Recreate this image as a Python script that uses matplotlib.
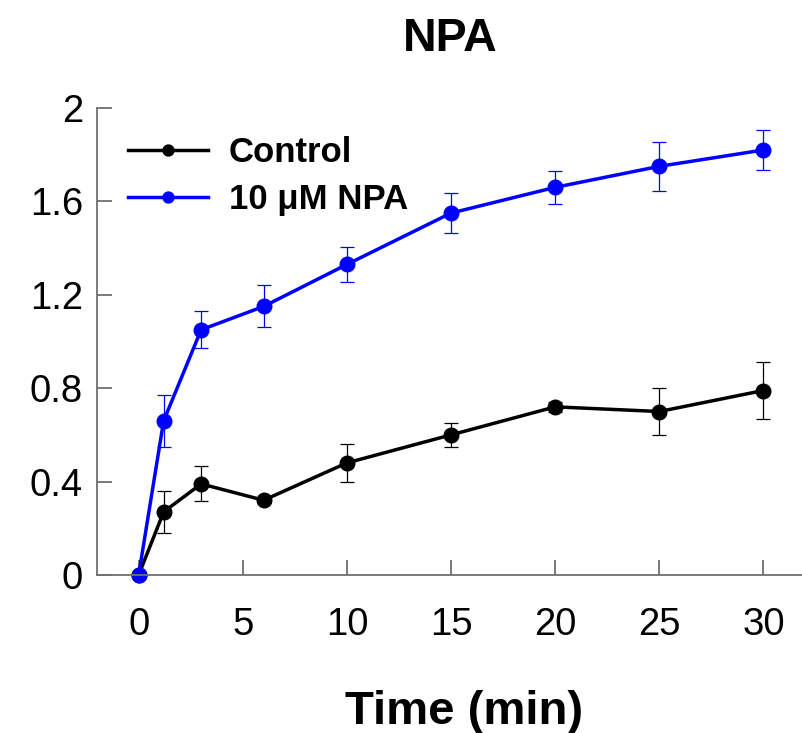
import matplotlib
matplotlib.use("Agg")
import matplotlib.pyplot as plt

# data
time_min = [0, 1.2, 3, 6, 10, 15, 20, 25, 30]
control = [0, 0.27, 0.39, 0.32, 0.48, 0.60, 0.72, 0.70, 0.79]
control_err = [0, 0.09, 0.075, 0.01, 0.08, 0.05, 0.02, 0.10, 0.12]
npa = [0, 0.66, 1.05, 1.15, 1.33, 1.55, 1.66, 1.75, 1.82]
npa_err = [0, 0.11, 0.08, 0.09, 0.075, 0.085, 0.07, 0.105, 0.085]

x_ticks = [0, 5, 10, 15, 20, 25, 30]
y_ticks = [0, 0.4, 0.8, 1.2, 1.6, 2.0]
y_tick_labels = ["0", "0.4", "0.8", "1.2", "1.6", "2"]

plt.rcParams["font.family"] = ["Liberation Sans", "DejaVu Sans"]

fig = plt.figure(figsize=(8.03, 7.33), dpi=100)
ax = fig.add_axes([0.1208, 0.2156, 0.8792, 0.6371])

series = [
    (control, control_err, "black", "Control"),
    (npa, npa_err, "#0000ff", "10 \u03bcM NPA"),
]
lines = []
for vals, errs, color, label in series:
    cont = ax.errorbar(time_min, vals, yerr=errs, color=color, ecolor=color,
                       elinewidth=0.9, capsize=5, capthick=0.9,
                       lw=2.5, marker="o", ms=10.5, label=label, clip_on=False)
    lines.append(cont[0])

ax.set_xlim(-2, 31.9)
ax.set_ylim(0, 2)
ax.set_xticks(x_ticks)
ax.set_yticks(y_ticks)
ax.set_yticklabels(y_tick_labels)

for side in ["top", "right"]:
    ax.spines[side].set_visible(False)
for side in ["left", "bottom"]:
    ax.spines[side].set_color("#707070")
    ax.spines[side].set_linewidth(1.3)

ax.tick_params(direction="in", length=11, width=1.3, color="#707070",
               labelsize=27.5, pad=10)
ax.tick_params(axis="x", pad=23)

ax.set_title("NPA", fontsize=33.5, fontweight="bold", pad=41)
ax.set_xlabel("Time (min)", fontsize=34, fontweight="bold", labelpad=34)
ax.xaxis.label.set_x(0.52)

ax.legend(lines, [s[3] for s in series], loc="upper left",
          bbox_to_anchor=(0.0, 1.006), frameon=False,
          prop={"size": 25, "weight": "bold"}, markerscale=0.75,
          handlelength=2.3, handletextpad=0.6, labelspacing=0.4)

fig.savefig("out.png", dpi=100)
